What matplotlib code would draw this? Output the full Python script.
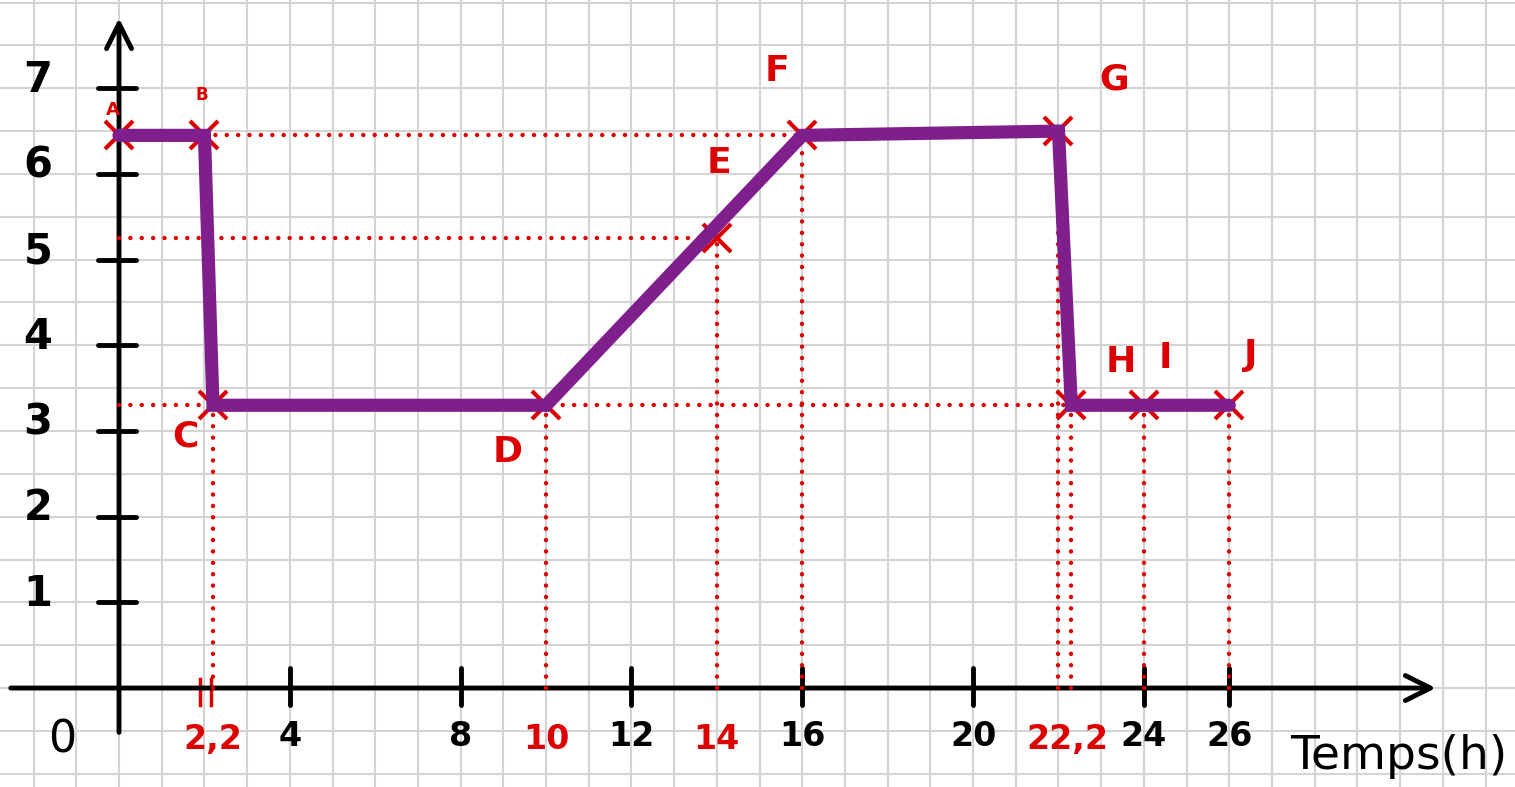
import numpy as np
import matplotlib.pyplot as plt

# points of the curve
names = ['A', 'B', 'C', 'D', 'E', 'F', 'G', 'H', 'I', 'J']
temps = [0, 2, 2.2, 10, 14, 16, 22, 22.3, 24, 26]
valeurs = [6.45, 6.45, 3.3, 3.3, 5.25, 6.45, 6.5, 3.3, 3.3, 3.3]
# E is only marked, the drawn line goes straight from D to F
on_curve = [True, True, True, True, False, True, True, True, True, True]

# axis graduations
x_ticks = [4, 8, 12, 16, 20, 24, 26]
y_ticks = [1, 2, 3, 4, 5, 6, 7]
red_ticks = [2.2, 10, 14, 22.2]
red_tick_labels = ['2,2', '10', '14', '22,2']

# label offsets for each point (in data units)
label_dx = [-0.15, -0.05, -0.65, -0.9, 0.05, -0.6, 1.3, 1.15, 0.5, 0.5]
label_dy = [0.3, 0.47, -0.37, -0.55, 0.88, 0.75, 0.6, 0.5, 0.55, 0.59]
label_size = [13, 12, 26, 26, 26, 26, 26, 26, 26, 26]

purple = '#7f1f8c'
red = '#dd0000'

fig = plt.figure(figsize=(15.15, 7.87), dpi=100)
ax = fig.add_axes([0, 0, 1, 1])
ax.set_xlim(-2.787, 32.69)
ax.set_ylim(-1.155, 8.03)

# squared paper
ax.set_xticks(np.arange(-2, 33, 1))
ax.set_yticks(np.arange(-1, 8.5, 0.5))
ax.grid(True, color='#d4d4d4', lw=1.5)
ax.tick_params(length=0, labelbottom=False, labelleft=False)
for s in ax.spines.values():
    s.set_visible(False)
ax.set_axisbelow(True)

# axes with arrows
ax.annotate('', xy=(30.9, 0), xytext=(-2.6, 0),
            arrowprops=dict(arrowstyle='->', lw=3.5, color='black', mutation_scale=45))
ax.annotate('', xy=(0, 7.85), xytext=(0, -0.55),
            arrowprops=dict(arrowstyle='->', lw=3.5, color='black', mutation_scale=45))

for t in x_ticks:
    ax.plot([t, t], [-0.2, 0.23], color='black', lw=3.5, solid_capstyle='round')
    ax.text(t, -0.57, str(t), ha='center', va='center', fontsize=24, fontweight='bold')
for v in y_ticks:
    ax.plot([-0.49, 0.4], [v, v], color='black', lw=3.5, solid_capstyle='round')
    ax.text(-1.9, v + 0.1, str(v), ha='center', va='center', fontsize=30, fontweight='bold')
ax.text(-1.33, -0.61, '0', ha='center', va='center', fontsize=32)

# red graduations
for t in [1.9, 2.15]:
    ax.plot([t, t], [-0.2, 0.1], color=red, lw=2.5)
for t, lab in zip(red_ticks, red_tick_labels):
    ax.text(t, -0.6, lab, ha='center', va='center', fontsize=24, color=red, fontweight='bold')

# dotted guides
dots = dict(color=red, lw=3.2, linestyle=(0, (0.01, 2.55)), dash_capstyle='round', zorder=3)
ax.plot([temps[1], temps[5]], [valeurs[1], valeurs[5]], **dots)
ax.plot([0, temps[4]], [valeurs[4], valeurs[4]], **dots)
ax.plot([0, temps[7]], [valeurs[2], valeurs[7]], **dots)
for t, v in zip(temps[2:], valeurs[2:]):
    ax.plot([t, t], [0, v], **dots)

# curve
ax.plot(temps, valeurs, 'x', color=red, ms=20, mew=3, zorder=4)
ct = [t for t, k in zip(temps, on_curve) if k]
cv = [v for v, k in zip(valeurs, on_curve) if k]
ax.plot(ct, cv, color=purple, lw=9.5, solid_capstyle='round',
        solid_joinstyle='miter', zorder=5)

for n, t, v, dx, dy, fs in zip(names, temps, valeurs, label_dx, label_dy, label_size):
    ax.text(t + dx, v + dy, n, ha='center', va='center', fontsize=fs,
            color=red, fontweight='bold', zorder=6)

ax.text(32.5, -0.8, 'Temps(h)', ha='right', va='center', fontsize=34)

fig.savefig('out.png', dpi=100)
